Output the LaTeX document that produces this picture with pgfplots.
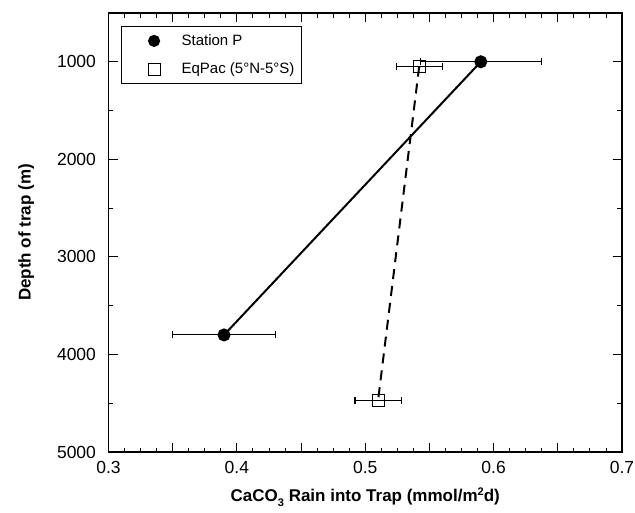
\documentclass[border=0pt]{standalone}
\usepackage{fontspec}
\setmainfont{Liberation Sans}
\usepackage{pgfplots}
\pgfplotsset{compat=1.18}

% Sediment-trap CaCO3 rain versus trap depth
\pgfplotstableread{
x     y     ex
0.59  1000  0.047
0.39  3800  0.040
}\stationP
\pgfplotstableread{
x     y     ex
0.542 1050  0.018
0.51  4470  0.018
}\eqpac

\begin{document}
\begin{tikzpicture}
\begin{axis}[
  scale only axis,
  width=513.5pt, height=439pt,
  at={(0pt,0pt)}, anchor=south west,
  xmin=0.3, xmax=0.7,
  ymin=500, ymax=5000,
  y dir=reverse,
  xtick={0.3,0.35,...,0.71},
  xticklabels={0.3,,0.4,,0.5,,0.6,,0.7},
  minor x tick num=3,
  ytick={1000,2000,3000,4000,5000},
  yticklabels={1000,2000,3000,4000,5000},
  minor y tick num=1,
  tick align=inside,
  major tick length=9pt,
  minor tick length=4.5pt,
  tick style={line width=0.9pt, black},
  axis line style={line width=1.3pt},
  ticklabel style={font=\fontsize{17.5}{20}\selectfont},
  xticklabel style={yshift=-6pt},
  yticklabel style={xshift=-9pt},
  xlabel={\bfseries CaCO\raisebox{-5pt}{\fontsize{11}{11}\selectfont 3} Rain into Trap (mmol/m\raisebox{6pt}{\fontsize{11}{11}\selectfont 2}d)},
  ylabel={\bfseries Depth of trap (m)},
  label style={font=\fontsize{17}{20}\selectfont},
  xlabel style={at={(axis description cs:0.5,-0.112)}, anchor=base},
  ylabel style={at={(axis description cs:-0.16,0.5)}, anchor=center},
  legend style={
    at={(axis description cs:0.0243,0.970)}, anchor=north west,
    draw=black, line width=1.1pt,
    font=\fontsize{15}{18}\selectfont,
    inner xsep=5pt, inner ysep=6pt,
    row sep=12pt,
    cells={anchor=west},
  },
  legend image code/.code={\path (0pt,-4pt) (52pt,4pt); \draw[#1] plot coordinates {(27pt,0pt)};},
  error bars/error bar style={solid, line width=1.1pt, black},
  error bars/error mark options={solid, rotate=90, mark size=3.5pt, line width=1.1pt, black},
]
\addlegendimage{only marks, mark=*, mark size=5.5pt, black}
\addlegendentry{Station P}
\addlegendimage{only marks, mark=square, mark size=6pt, line width=1pt, black}
\addlegendentry{EqPac (5\textdegree N-5\textdegree S)}

\addplot[black, line width=2pt, mark=*, mark size=5.5pt,
  error bars/.cd, x dir=both, x explicit]
  table[x=x, y=y, x error=ex] {\stationP};
\addplot[black, line width=2pt, dash pattern=on 10pt off 7pt,
  mark=square, mark size=6pt, mark options={solid, line width=1pt},
  error bars/.cd, x dir=both, x explicit]
  table[x=x, y=y, x error=ex] {\eqpac};
\end{axis}
\pgfresetboundingbox
\path[use as bounding box] (-108.5pt,-60pt) rectangle (526.5pt,452pt);
\end{tikzpicture}
\end{document}
